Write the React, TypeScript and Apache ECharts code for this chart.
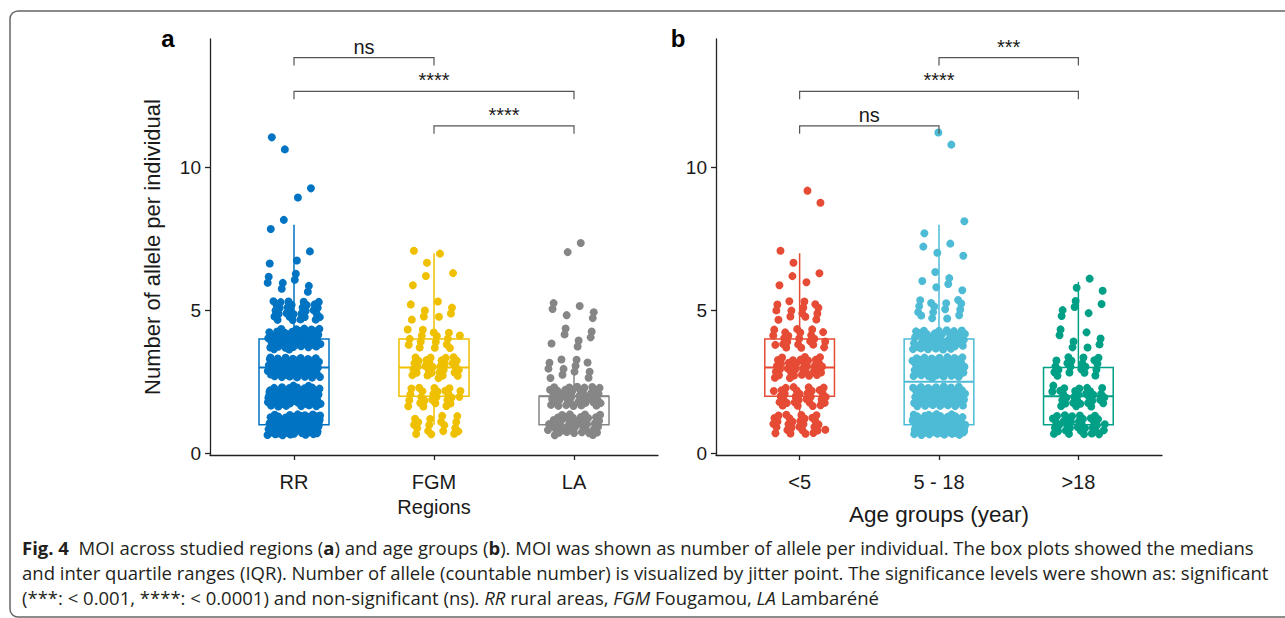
import React, { useEffect, useRef } from 'react';
import * as echarts from 'echarts';

// ---------- data ----------
const regionCats = ['RR', 'FGM', 'LA'];
const ageCats = ['<5', '5 - 18', '>18'];
const alleleValues = [1, 2, 3, 4, 5, 6, 7, 8, 9, 10, 11];

// number of individuals carrying 1..11 alleles (estimated from the jitter clouds)
const rrCounts = [80, 60, 65, 50, 30, 8, 3, 2, 2, 0, 2];
const fgmCounts = [18, 25, 30, 16, 8, 3, 3, 0, 0, 0, 0];
const laCounts = [42, 42, 12, 7, 6, 0, 2, 0, 0, 0, 0];
const lt5Counts = [28, 30, 35, 22, 14, 4, 2, 0, 2, 0, 0];
const age518Counts = [75, 56, 57, 45, 15, 6, 4, 2, 0, 0, 2];
const gt18Counts = [35, 30, 20, 8, 6, 3, 0, 0, 0, 0, 0];

// box statistics: [lower whisker, Q1, median, Q3, upper whisker]
const regionBoxes = [
  [1, 1, 3, 4, 8],
  [1, 2, 3, 4, 7],
  [1, 1, 2, 2, 3],
];
const ageBoxes = [
  [1, 2, 3, 4, 7],
  [1, 1, 2.5, 4, 8],
  [1, 1, 2, 3, 6],
];

// pairwise comparisons: groups compared, significance label, bracket height (allele units)
const regionTests = [
  { a: 1, b: 2, label: 'ns', level: 13.85 },
  { a: 1, b: 3, label: '****', level: 12.67 },
  { a: 2, b: 3, label: '****', level: 11.46 },
];
const ageTests = [
  { a: 2, b: 3, label: '***', level: 13.85 },
  { a: 1, b: 3, label: '****', level: 12.67 },
  { a: 1, b: 2, label: 'ns', level: 11.46 },
];

const yTicks = [0, 5, 10];
const catTicks = [1, 2, 3];

const regionColors = ['#0073C2', '#EFC000', '#868686'];
const ageColors = ['#E64B35', '#4DBBD5', '#00A087'];

const captionLines = [
  '{b|Fig. 4}  MOI across studied regions ({b|a}) and age groups ({b|b}). MOI was shown as number of allele per individual. The box plots showed the medians',
  'and inter quartile ranges (IQR). Number of allele (countable number) is visualized by jitter point. The significance levels were shown as: significant',
  '(***: < 0.001, ****: < 0.0001) and non-significant (ns). {i|RR} rural areas, {i|FGM} Fougamou, {i|LA} Lambaréné',
];

// ---------- helpers ----------
const frac = (v: number) => v - Math.floor(v);

// deterministic low-discrepancy jitter (visual spread only, like geom_jitter)
function jitter(counts: number[], cat: number, seed: number) {
  const pts: number[][] = [];
  let k = 0;
  counts.forEach((c, vi) => {
    for (let j = 0; j < c; j++) {
      k++;
      const u = frac(seed + k * 0.7548776662);
      const w = frac(seed * 1.7 + 0.3 + k * 0.569840291);
      pts.push([cat + (u - 0.5) * 0.38, alleleValues[vi] + (w - 0.5) * 0.74]);
    }
  });
  return pts;
}

const FONT = '"Liberation Sans", Arial, sans-serif';
const CAP_FONT = '"Open Sans", "Noto Sans", sans-serif';
const CAP_SIZE = 18.5;

function boxSeries(boxes: number[][], colors: string[], idx: number) {
  return {
    type: 'custom',
    xAxisIndex: idx,
    yAxisIndex: idx,
    z: 5,
    encode: { x: 0, y: [1, 2, 3, 4, 5] },
    data: boxes.map((b, i) => [i + 1, ...b]),
    renderItem: (params: any, api: any) => {
      const x = api.value(0);
      const lo = api.coord([x, api.value(1)]);
      const q1 = api.coord([x, api.value(2)]);
      const med = api.coord([x, api.value(3)]);
      const q3 = api.coord([x, api.value(4)]);
      const hi = api.coord([x, api.value(5)]);
      const half = api.size([0.5, 0])[0] / 2;
      const color = colors[params.dataIndex];
      const cx = q1[0];
      const ls = { stroke: color, lineWidth: 1.5 };
      return {
        type: 'group',
        children: [
          { type: 'line', shape: { x1: cx, y1: q3[1], x2: cx, y2: hi[1] }, style: ls },
          { type: 'line', shape: { x1: cx, y1: q1[1], x2: cx, y2: lo[1] }, style: ls },
          {
            type: 'rect',
            shape: { x: cx - half, y: q3[1], width: half * 2, height: q1[1] - q3[1] },
            style: { fill: 'none', stroke: color, lineWidth: 1.5 },
          },
          { type: 'line', shape: { x1: cx - half, y1: med[1], x2: cx + half, y2: med[1] }, style: { stroke: color, lineWidth: 2 } },
        ],
      };
    },
  };
}

function bracketSeries(tests: any[], idx: number) {
  return {
    type: 'custom',
    xAxisIndex: idx,
    yAxisIndex: idx,
    z: 6,
    encode: { x: [0, 1], y: 2 },
    data: tests.map((t) => [t.a, t.b, t.level]),
    renderItem: (params: any, api: any) => {
      const p1 = api.coord([api.value(0), api.value(2)]);
      const p2 = api.coord([api.value(1), api.value(2)]);
      const label = tests[params.dataIndex].label;
      const tick = 8;
      return {
        type: 'group',
        children: [
          {
            type: 'polyline',
            shape: { points: [[p1[0], p1[1] + tick], [p1[0], p1[1]], [p2[0], p2[1]], [p2[0], p2[1] + tick]] },
            style: { stroke: '#555', lineWidth: 1.2, fill: 'none' },
          },
          {
            type: 'text',
            x: (p1[0] + p2[0]) / 2,
            y: p1[1] - 1,
            style: {
              text: label,
              fill: '#1a1a1a',
              font: `20px ${FONT}`,
              align: 'center',
              verticalAlign: 'bottom',
              textAlign: 'center',
              textVerticalAlign: 'bottom',
            },
          },
        ],
      };
    },
  };
}

function scatter(counts: number[], cat: number, color: string, idx: number, seed: number) {
  return {
    type: 'scatter',
    xAxisIndex: idx,
    yAxisIndex: idx,
    z: 3,
    symbol: 'circle',
    symbolSize: 8,
    itemStyle: { color, opacity: 1 },
    data: jitter(counts, cat, seed),
  };
}

function xAxis(idx: number, cats: string[], name: string, nameGap: number, nameSize: number) {
  return {
    type: 'value',
    gridIndex: idx,
    min: 0.4,
    max: 3.6,
    name,
    nameLocation: 'middle',
    nameGap,
    nameTextStyle: { fontFamily: FONT, fontSize: nameSize, color: '#1a1a1a' },
    axisLine: { show: true, onZero: false, lineStyle: { color: '#222', width: 1.3 } },
    axisTick: { show: true, customValues: catTicks, length: 5, lineStyle: { color: '#222', width: 1.3 } },
    axisLabel: {
      customValues: catTicks,
      margin: 17,
      fontFamily: FONT,
      fontSize: 20,
      color: '#1a1a1a',
      formatter: (v: number) => cats[Math.round(v) - 1] ?? '',
    },
    splitLine: { show: false },
  };
}

function yAxis(idx: number, name: string) {
  return {
    type: 'value',
    gridIndex: idx,
    min: -0.06,
    max: 14.5,
    name,
    nameLocation: 'middle',
    nameRotate: 90,
    nameGap: 47,
    nameTextStyle: { fontFamily: FONT, fontSize: 22, color: '#1a1a1a' },
    axisLine: { show: true, lineStyle: { color: '#222', width: 1.3 } },
    axisTick: { show: true, customValues: yTicks, length: 5, lineStyle: { color: '#222', width: 1.3 } },
    axisLabel: { customValues: yTicks, margin: 9, fontFamily: FONT, fontSize: 19, color: '#1a1a1a' },
    splitLine: { show: false },
  };
}

export default function App() {
  const ref = useRef<HTMLDivElement>(null);
  useEffect(() => {
    if (!ref.current) return;
    const chart = echarts.init(ref.current, undefined, { renderer: 'svg' });
    const option: any = {
      animation: false,
      backgroundColor: '#ffffff',
      grid: [
        { left: 210, top: 39, width: 448, height: 416, outerBoundsMode: 'none' },
        { left: 716, top: 39, width: 446, height: 416, outerBoundsMode: 'none' },
      ],
      xAxis: [xAxis(0, regionCats, 'Regions', 41, 20), xAxis(1, ageCats, 'Age groups (year)', 48, 22.5)],
      yAxis: [yAxis(0, 'Number of allele per individual'), yAxis(1, '')],
      series: [
        scatter(rrCounts, 1, regionColors[0], 0, 0.11),
        scatter(fgmCounts, 2, regionColors[1], 0, 0.37),
        scatter(laCounts, 3, regionColors[2], 0, 0.59),
        scatter(lt5Counts, 1, ageColors[0], 1, 0.23),
        scatter(age518Counts, 2, ageColors[1], 1, 0.71),
        scatter(gt18Counts, 3, ageColors[2], 1, 0.47),
        boxSeries(regionBoxes, regionColors, 0),
        boxSeries(ageBoxes, ageColors, 1),
        bracketSeries(regionTests, 0),
        bracketSeries(ageTests, 1),
      ],
      graphic: [
        {
          type: 'rect',
          shape: { x: 10, y: 11, width: 1300, height: 606, r: 8 },
          style: { fill: 'none', stroke: '#666', lineWidth: 1.5 },
          z: 0,
        },
        {
          type: 'text',
          x: 168,
          y: 38,
          style: { text: 'a', font: `bold 24px ${FONT}`, fill: '#000', align: 'center', verticalAlign: 'middle' },
        },
        {
          type: 'text',
          x: 678,
          y: 38,
          style: { text: 'b', font: `bold 24px ${FONT}`, fill: '#000', align: 'center', verticalAlign: 'middle' },
        },
        ...captionLines.map((line, i) => ({
          type: 'text',
          x: 22,
          y: 547 + i * 25,
          style: {
            text: line,
            fontFamily: CAP_FONT,
            fontSize: CAP_SIZE,
            fill: '#231f20',
            align: 'left',
            verticalAlign: 'middle',
            rich: {
              b: { fontFamily: CAP_FONT, fontSize: CAP_SIZE, fontWeight: 'bold', fill: '#231f20' },
              i: { fontFamily: CAP_FONT, fontSize: CAP_SIZE, fontStyle: 'italic', fill: '#231f20' },
            },
          },
        })),
      ],
    };
    chart.setOption(option);
    return () => chart.dispose();
  }, []);
  return (
    <div
      ref={ref}
      style={{ position: 'fixed', left: 0, top: 0, width: 1285, height: 618, background: '#fff' }}
    />
  );
}
